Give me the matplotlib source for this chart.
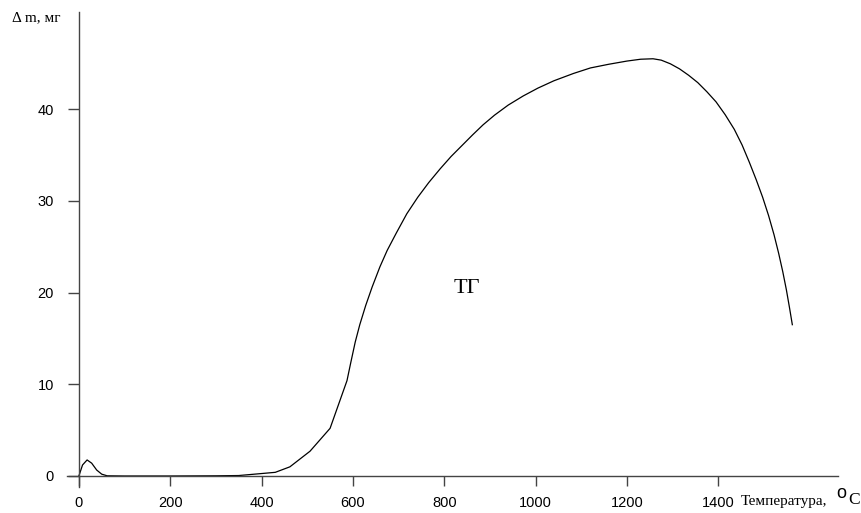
import matplotlib.pyplot as plt

# TG curve: mass change vs temperature
temperature = [0, 8, 18, 28, 39, 50, 62, 100, 200, 300, 350, 396, 430, 462, 506,
               550, 587, 595, 605, 615, 628, 642, 659, 675, 695, 718, 742, 766,
               791, 815, 840, 862, 885, 910, 940, 973, 1005, 1040, 1083, 1120,
               1160, 1200, 1230, 1257, 1275, 1295, 1315, 1335, 1355, 1375, 1395,
               1415, 1435, 1452, 1468, 1483, 1497, 1510, 1522, 1532, 1541, 1549,
               1556, 1562]
mass_change = [0, 1.2, 1.75, 1.4, 0.65, 0.2, 0.02, 0, 0, 0.02, 0.05, 0.25, 0.4,
               1.0, 2.7, 5.2, 10.4, 12.3, 14.6, 16.5, 18.6, 20.6, 22.8, 24.6,
               26.5, 28.6, 30.4, 32.0, 33.5, 34.85, 36.1, 37.2, 38.3, 39.35,
               40.45, 41.45, 42.3, 43.1, 43.9, 44.5, 44.9, 45.25, 45.45, 45.5,
               45.35, 44.95, 44.4, 43.7, 42.9, 41.9, 40.8, 39.4, 37.8, 36.1, 34.2,
               32.3, 30.4, 28.4, 26.3, 24.3, 22.3, 20.3, 18.3, 16.5]

x_ticks = [0, 200, 400, 600, 800, 1000, 1200, 1400]
y_ticks = [0, 10, 20, 30, 40]

W, H = 861, 513
fig = plt.figure(figsize=(W / 100, H / 100), dpi=100)
ax = fig.add_axes([67 / W, 26 / H, (838 - 67) / W, (501 - 26) / H])

ax.plot(temperature, mass_change, color='black', lw=0.9)

ax.set_xlim(-26, 1662)
ax.set_ylim(-1.2, 50.6)

for side in ['top', 'right']:
    ax.spines[side].set_visible(False)
ax.spines['left'].set_position(('data', 0))
ax.spines['bottom'].set_position(('data', 0))
for side in ['left', 'bottom']:
    ax.spines[side].set_color('#444444')
    ax.spines[side].set_linewidth(1.0)

ax.set_xticks(x_ticks)
ax.set_yticks(y_ticks)
ax.tick_params(axis='x', direction='out', length=7.5, width=1.0, color='#444444',
               pad=7, labelsize=10.5)
ax.tick_params(axis='y', direction='out', length=8, width=1.0, color='#444444',
               pad=10, labelsize=10.5)
for lab in ax.get_xticklabels() + ax.get_yticklabels():
    lab.set_family('Liberation Sans')

ax.text(849, 20.5, 'ТГ', family='Liberation Serif', fontsize=16,
        ha='center', va='center')

# axis captions
fig.text(12 / W, 1 - 18 / H, 'Δ m, мг', family='Liberation Serif', fontsize=11,
         ha='left', va='center')
fig.text(741 / W, 1 - 501 / H, 'Температура,', family='Liberation Serif',
         fontsize=11, ha='left', va='center')
fig.text(836 / W, 1 - 493 / H, 'o', family='Liberation Sans', fontsize=13,
         ha='left', va='center')
fig.text(848 / W, 1 - 500 / H, 'C', family='Liberation Serif', fontsize=12.5,
         ha='left', va='center')

fig.savefig('out.png', dpi=100)
